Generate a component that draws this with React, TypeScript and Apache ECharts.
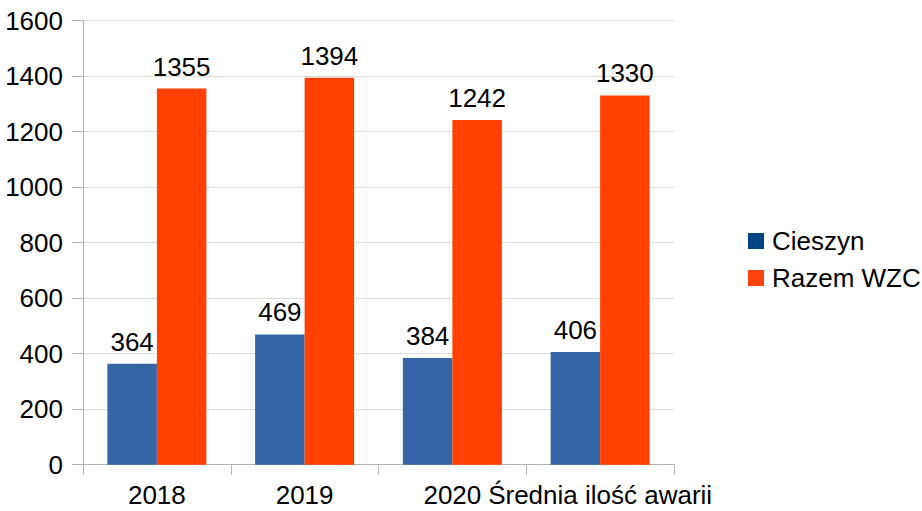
import React, { useEffect, useRef } from "react";
import * as echarts from "echarts";

const categories = ["2018", "2019", "2020", "Średnia ilość awarii"];
const cieszyn = [364, 469, 384, 406];
const razemWZC = [1355, 1394, 1242, 1330];
const yTicks = { min: 0, max: 1600, interval: 200 };

export default function App() {
  const ref = useRef<HTMLDivElement>(null);
  useEffect(() => {
    const chart = echarts.init(ref.current!, null, { renderer: "svg" });
    const font = "'Liberation Sans', Arial, sans-serif";
    const labelStyle = {
      show: true,
      position: "top" as const,
      distance: 9,
      color: "#000",
      fontSize: 26,
      fontFamily: font,
    };
    chart.setOption({
      animation: false,
      grid: { left: 83, top: 20.5, width: 591, height: 444.2 },
      legend: {
        orient: "vertical",
        left: 748,
        top: 228,
        padding: 0,
        itemWidth: 16,
        itemHeight: 16,
        itemGap: 11,
        itemTextGap: 5,
        icon: "rect",
        textStyle: { fontSize: 26, fontFamily: font, color: "#000", padding: [0, 0, 0, 3] },
        data: [
          { name: "Cieszyn", itemStyle: { color: "#004586" } },
          { name: "Razem WZC", itemStyle: { color: "#ff420e" } },
        ],
      },
      xAxis: {
        type: "category",
        data: categories,
        axisLine: { lineStyle: { color: "#b3b3b3" } },
        axisTick: { show: true, length: 10, lineStyle: { color: "#b3b3b3" } },
        axisLabel: { interval: 0, color: "#000", fontSize: 26, fontFamily: font, margin: 17 },
      },
      yAxis: {
        type: "value",
        min: yTicks.min,
        max: yTicks.max,
        interval: yTicks.interval,
        axisLine: { show: true, lineStyle: { color: "#b3b3b3" } },
        axisTick: { show: true, length: 11, lineStyle: { color: "#b3b3b3" } },
        splitLine: { lineStyle: { color: "#dddddd" } },
        axisLabel: {
          color: "#000",
          fontSize: 26,
          fontFamily: font,
          margin: 20,
          formatter: (v: number) => String(v),
        },
      },
      series: [
        {
          name: "Cieszyn",
          type: "bar",
          data: cieszyn,
          barGap: "0%",
          barCategoryGap: "33%",
          itemStyle: { color: "#3465a4" },
          label: labelStyle,
        },
        {
          name: "Razem WZC",
          type: "bar",
          data: razemWZC,
          barGap: "0%",
          barCategoryGap: "33%",
          itemStyle: { color: "#ff4000" },
          label: labelStyle,
        },
      ],
    });
    return () => chart.dispose();
  }, []);
  return <div ref={ref} style={{ width: 922, height: 511, position: "absolute", left: 0, top: 0 }} />;
}
